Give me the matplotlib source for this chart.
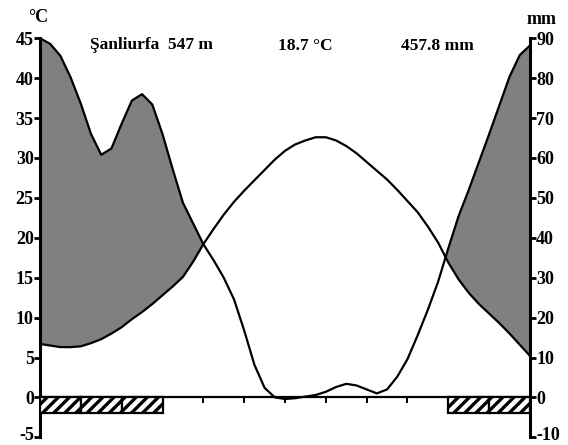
import numpy as np
import matplotlib.pyplot as plt
import matplotlib.transforms as mtransforms
from matplotlib.patches import Rectangle

plt.rcParams['font.family'] = ['Liberation Serif', 'DejaVu Serif']
plt.rcParams['font.weight'] = 'bold'
plt.rcParams['axes.unicode_minus'] = False
plt.rcParams['hatch.linewidth'] = 2.4

# curves read every quarter month: 0 = start of January, 12 = end of December
month_pos = np.arange(0, 12.01, 0.25)
temperature = [6.7, 6.5, 6.3, 6.3, 6.4, 6.8, 7.3, 8.0, 8.8, 9.8, 10.7, 11.7, 12.8,
               13.9, 15.1, 17.0, 19.2, 21.1, 22.9, 24.5, 25.9, 27.2, 28.5, 29.8, 30.9,
               31.7, 32.2, 32.6, 32.6, 32.2, 31.5, 30.6, 29.5, 28.4, 27.3, 26.0, 24.6,
               23.2, 21.4, 19.4, 16.9, 14.8, 13.1, 11.7, 10.5, 9.3, 8.0, 6.6, 5.2]
precipitation = [90, 88.6, 85.6, 80.2, 73.6, 66, 60.8, 62.4, 68.6, 74.4, 76, 73.4, 66,
                 57.2, 48.8, 43.6, 38.4, 34.4, 30, 24.6, 16.8, 8.2, 2.4, 0, -0.4,
                 -0.2, 0.2, 0.6, 1.4, 2.6, 3.4, 3, 2, 1, 2, 5.2, 9.6,
                 15.6, 22, 29, 37.4, 45.4, 52, 59, 66, 73.2, 80.4, 85.8, 88.2]
frost_months = [0, 1, 2, 10, 11]

station = 'Şanliurfa  547 m'
mean_temp = '18.7 °C'
total_prec = '457.8 mm'

W, H = 568, 445
fig = plt.figure(figsize=(W / 100, H / 100), dpi=100)
ax = fig.add_axes([40 / W, 1 - 437.3 / H, 490 / W, 399 / H])
ax.set_xlim(0, 12)
ax.set_ylim(-5, 45)

t = np.array(temperature)
p = np.array(precipitation) / 2  # 10 °C = 20 mm

ax.fill_between(month_pos, t, p, where=p >= t, interpolate=True,
                color='#808080', lw=0, zorder=1)
ax.plot(month_pos, t, color='k', lw=1.6, zorder=3, solid_joinstyle='round')
ax.plot(month_pos, p, color='k', lw=1.6, zorder=3, solid_joinstyle='round')

for m in frost_months:
    ax.add_patch(Rectangle((m, -2), 1, 2, facecolor='white', edgecolor='k',
                           hatch='///', lw=1.6, zorder=4))

ax.spines['top'].set_visible(False)
ax.spines['bottom'].set_position(('data', 0))
ax.spines['bottom'].set_linewidth(1.6)
ax.spines['left'].set_linewidth(2.2)
ax.spines['right'].set_visible(False)
ax.set_xticks(range(1, 12))
ax.set_xticklabels([])
ax.tick_params(axis='x', direction='out', length=4, width=1.4)
ax.set_yticks(range(-5, 46, 5))
ax.tick_params(axis='y', direction='out', length=4, width=2, labelsize=13, pad=0.5)

ax2 = ax.twinx()
ax2.set_ylim(-10, 90)
ax2.set_yticks(range(-10, 91, 10))
for s in ['left', 'top', 'bottom']:
    ax2.spines[s].set_visible(False)
ax2.spines['right'].set_linewidth(2.2)
ax2.tick_params(axis='y', direction='out', length=4, width=2, labelsize=13, pad=0.5)

# lift the lowest labels a little so they stay inside the picture
lift = mtransforms.ScaledTranslation(0, 3 / 72, fig.dpi_scale_trans)
for lab in (ax.yaxis.get_major_ticks()[0].label1, ax2.yaxis.get_major_ticks()[0].label2):
    lab.set_transform(lab.get_transform() + lift)

def px_text(x, y, s, ha='left', size=12.5):
    fig.text(x / W, 1 - y / H, s, ha=ha, va='center', fontsize=size, fontweight='bold')

px_text(38, 18, '°C', ha='center', size=13)
px_text(542, 19, 'mm', ha='center', size=13)
px_text(90, 45, station)
px_text(305, 46, mean_temp, ha='center')
px_text(401, 46, total_prec)

fig.savefig('out.png', dpi=100)
